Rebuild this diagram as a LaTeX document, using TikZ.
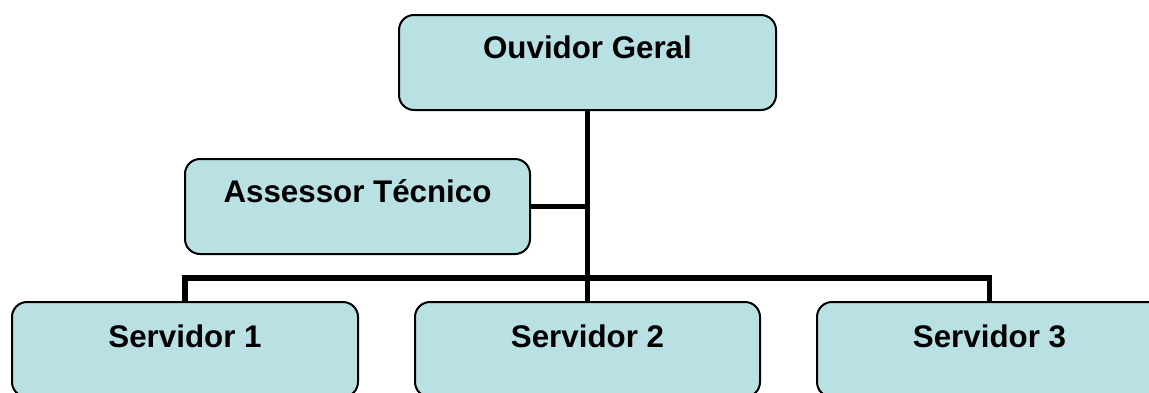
\documentclass[tikz,border=0pt]{standalone}
\usepackage{fontspec}
\setmainfont{Liberation Sans}
\definecolor{boxfill}{RGB}{185,224,227}
\tikzset{
  orgbox/.style={draw=black, line width=2pt, fill=boxfill, rounded corners=15pt,
    anchor=north west, inner xsep=0pt, inner ysep=0pt,
    font=\bfseries\fontsize{31.3}{36}\selectfont,
    text height=#1, text depth=95pt-#1},
  orgbox/.default=43pt,
  conn/.style={draw=black, line width=5.5pt},
}
\begin{document}
\begin{tikzpicture}[x=1pt,y=1pt]
  \clip (0,0) rectangle (1149,-392);
  \useasboundingbox (0,0) rectangle (1149,-392);
  % boxes
  \node[orgbox, minimum width=377pt] (ouv) at (398,-14) {Ouvidor Geral};
  \node[orgbox, minimum width=345pt] (ass) at (184,-158) {Assessor Técnico};
  \node[orgbox=45pt, minimum width=346pt] (s1) at (11,-301) {Servidor 1};
  \node[orgbox=45pt, minimum width=345pt] (s2) at (414,-301) {Servidor 2};
  \node[orgbox=45pt, minimum width=345pt] (s3) at (816,-301) {Servidor 3};
  % connectors
  \draw[conn] (ouv.south) -- (ouv.south |- s2.north);
  \draw[conn] (ass.east) -- (ass.east -| ouv.south);
  \draw[conn] (s1.north) -- ++(0,23) -| (s3.north);
\end{tikzpicture}
\end{document}
